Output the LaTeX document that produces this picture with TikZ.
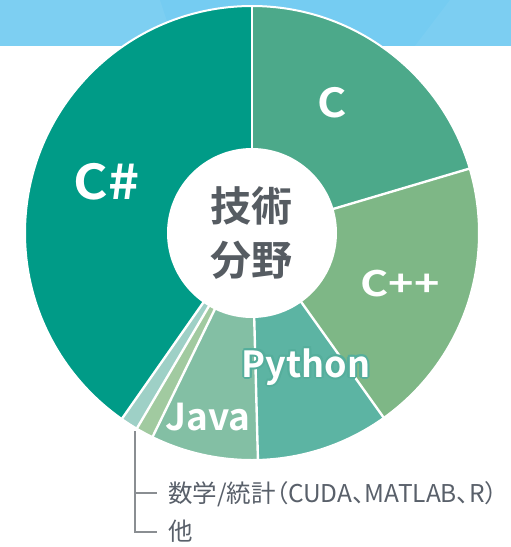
\documentclass[tikz,border=0pt]{standalone}
\usepackage{fontspec}
\usetikzlibrary{calc}
\newfontfamily\jpbold{Noto Sans CJK JP Bold}
\newfontfamily\jpreg[RawFeature=+palt]{Noto Sans CJK JP}
\newfontfamily\lblfont{Noto Sans CJK JP Bold}
\newfontfamily\widefont[FakeStretch=1.1]{Noto Sans CJK JP Bold}
\newfontfamily\cfont[FakeStretch=1.12]{Noto Sans CJK JP Bold}
\newfontfamily\cppfont[FakeStretch=1.23]{Noto Sans CJK JP Bold}
\definecolor{band}{HTML}{75CCF2}
\definecolor{csharp}{HTML}{009B87}
\definecolor{cc}{HTML}{4CA98A}
\definecolor{cpp}{HTML}{7EB786}
\definecolor{python}{HTML}{5CB4A3}
\definecolor{java}{HTML}{83BFA4}
\definecolor{mathstat}{HTML}{9ED0C6}
\definecolor{other}{HTML}{A1CAA0}
\definecolor{centertext}{HTML}{565C62}
\definecolor{legendtext}{HTML}{59606A}
\definecolor{legendline}{HTML}{8A8E92}
\definecolor{halo}{HTML}{55AE9C}
\tikzset{
  slicelabel/.style={text=white, inner sep=0pt},
  separator/.style={white, line width=2.4pt},
  legendrule/.style={legendline, line width=1.2pt},
  legendlabel/.style={anchor=west, text=legendtext, inner sep=0pt, font=\jpreg\fontsize{24.5}{28}\selectfont},
}
\begin{document}
\begin{tikzpicture}[x=1pt,y=1pt]
\useasboundingbox (0,0) rectangle (511,-547);
% sky band along the top
\fill[band] (0,0) rectangle (511,-46);
\fill[white,opacity=0.06] (160,0) -- (175,-46) -- (0,-46) -- (0,0) -- cycle;
\fill[white,opacity=0.05] (450,0) -- (415,-46) -- (511,-46) -- (511,0) -- cycle;

\def\R{226.5}
\coordinate (O) at (252,-233);
% slices (angles counter-clockwise from the positive x axis)
\fill[csharp]   (O) -- ++(90:\R)    arc[start angle=90,    end angle=235,   radius=\R] -- cycle;
\fill[mathstat] (O) -- ++(235:\R)   arc[start angle=235,   end angle=239.5, radius=\R] -- cycle;
\fill[other]    (O) -- ++(239.5:\R) arc[start angle=239.5, end angle=244,   radius=\R] -- cycle;
\fill[java]     (O) -- ++(244:\R)   arc[start angle=244,   end angle=271.5, radius=\R] -- cycle;
\fill[python]   (O) -- ++(271.5:\R) arc[start angle=271.5, end angle=305.5, radius=\R] -- cycle;
\fill[cpp]      (O) -- ++(305.5:\R) arc[start angle=305.5, end angle=376.5, radius=\R] -- cycle;
\fill[cc]       (O) -- ++(16.5:\R)  arc[start angle=16.5,  end angle=90,    radius=\R] -- cycle;
% white separators and rim
\foreach \a in {90,235,239.5,244,271.5,305.5,16.5}
  \draw[separator] (O) -- ++(\a:\R);
\draw[white, line width=2pt] (O) circle[radius=\R+0.5];
% centre hole
\fill[white] (O) circle[radius=85];
\node[text=centertext, align=center, inner sep=0pt, font=\jpbold\fontsize{41}{54}\selectfont] (title) at (251,-233) {技術\\分野};

% slice labels
\node[slicelabel, font=\widefont\fontsize{48}{50}\selectfont] (lcsharp) at (106.5,-182) {C\#};
\node[slicelabel, font=\cfont\fontsize{40}{42}\selectfont] (lc) at (332,-102.5) {C};
\node[slicelabel, font=\cppfont\fontsize{35}{38}\selectfont] (lcpp) at (400,-283.5) {C++};
\node[slicelabel, font=\lblfont\fontsize{37}{40}\selectfont] (ljava) at (208,-417) {Java};
% Python label with a teal halo
\foreach \ang in {0,45,...,315}
  \node[inner sep=0pt, text=halo, font=\lblfont\fontsize{36}{38}\selectfont] at ($(306,-367)+(\ang:2.2)$) {Python};
\node[slicelabel, font=\lblfont\fontsize{36}{38}\selectfont] (lpython) at (306,-367) {Python};

% legend for the two thin slices
\coordinate (ltop) at (135,-431);
\coordinate (lmid) at (135,-493);
\coordinate (lbot) at (135,-532);
\coordinate (tmid) at (157,-493);
\coordinate (tbot) at (157,-532);
\draw[legendrule] (ltop) -- (lbot) -- (tbot);
\draw[legendrule] (lmid) -- (tmid);
\node[legendlabel] (lmath) at (168,-494) {数学/統計（CUDA、MATLAB、R）};
\node[legendlabel] (lother) at (168,-531) {他};
\end{tikzpicture}
\end{document}
